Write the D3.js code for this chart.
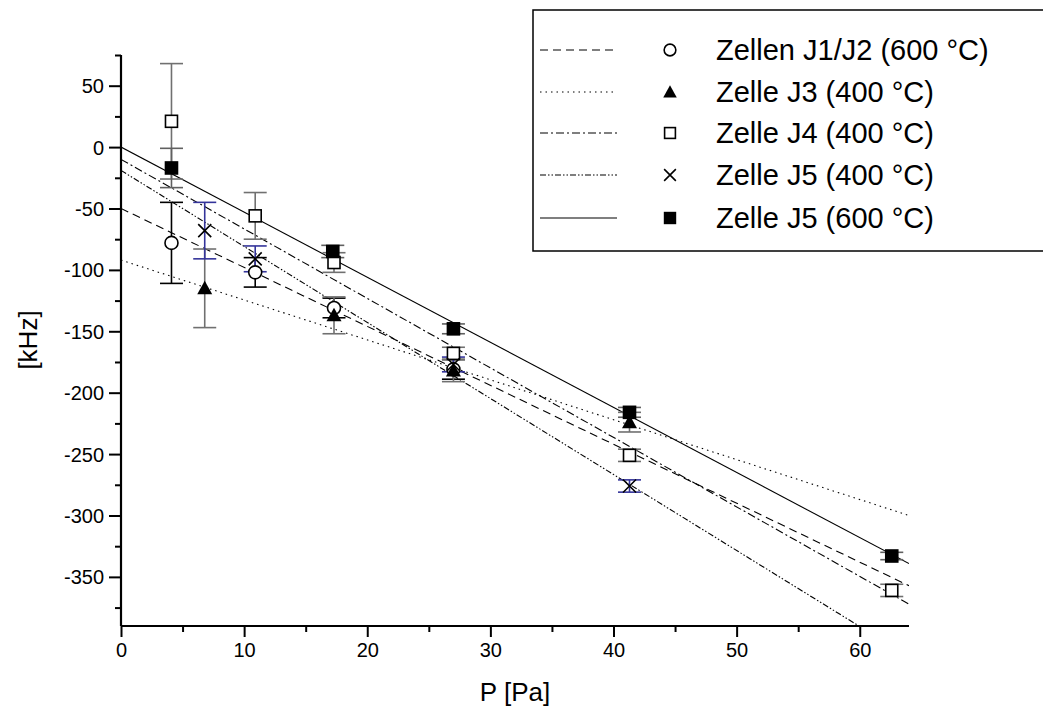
<html>
<script src="https://cdn.jsdelivr.net/npm/d3@7"></script>
<body style="margin:0; background:#fff">
<svg width="1043" height="708"></svg>
<script>
// series names and styles order
var names = ["Zellen J1/J2 (600 °C)", "Zelle J3 (400 °C)", "Zelle J4 (400 °C)", "Zelle J5 (400 °C)", "Zelle J5 (600 °C)"];

// measured points: pressure, shift, error
var j12P = [4.1, 10.9, 17.3, 27.0];
var j12F = [-78, -102, -131, -181];
var j12E = [33, 12, 8, 8];

var j3P = [6.8, 17.3, 27.0, 41.3];
var j3F = [-115, -137, -182, -224];
var j3E = [32, 15, 9, 8];

var j4P = [4.1, 10.9, 17.3, 27.0, 41.3, 62.6];
var j4F = [21, -56, -94, -168, -251, -361];
var j4E = [47, 19, 8, 5, 5, 5];

var j5aP = [6.8, 10.9, 27.0, 41.3];
var j5aF = [-68, -91, -177, -276];
var j5aE = [23, 10.5, 6, 5];

var j5bP = [4.1, 17.2, 27.0, 41.3, 62.6];
var j5bF = [-17, -85, -148, -216, -333];
var j5bE = [16, 5, 4, 4, 3];

// linear fits: intercept and slope
var fitA = [-50, -10, -92, -19, 0];
var fitB = [-4.8, -5.66, -3.25, -6.19, -5.3];
// fit order above: J1/J2, J4, J3, J5(400), J5(600) -> remapped below
var fitFor = [0, 2, 1, 3, 4];

var xTicks = [0, 10, 20, 30, 40, 50, 60];
var yTicks = [50, 0, -50, -100, -150, -200, -250, -300, -350];

var series = [
  {p: j12P, f: j12F, e: j12E, mark: "circle", bar: "#000"},
  {p: j3P, f: j3F, e: j3E, mark: "triangle", bar: "#707070"},
  {p: j4P, f: j4F, e: j4E, mark: "square", bar: "#707070"},
  {p: j5aP, f: j5aF, e: j5aE, mark: "cross", bar: "#34349a"},
  {p: j5bP, f: j5bF, e: j5bE, mark: "fsquare", bar: "#606060"}
];
var dashes = ["8,5", "1.5,4", "8,3,2,3", "6,2,1.5,2,1.5,2", null];

var svg = d3.select("svg");
var font = "'Liberation Sans', Arial, sans-serif";

var x = d3.scaleLinear().domain([0, 64]).range([121, 909]);
var y = d3.scaleLinear().domain([-390, 75]).range([626, 55]);

svg.append("clipPath").attr("id", "clip")
  .append("rect").attr("x", 121).attr("y", 55).attr("width", 788).attr("height", 571);

// fit lines
var plot = svg.append("g").attr("clip-path", "url(#clip)");
series.forEach(function(s, i) {
  var k = fitFor.indexOf(i);
  var a = fitA[k], b = fitB[k];
  plot.append("line")
    .attr("x1", x(0)).attr("y1", y(a))
    .attr("x2", x(64)).attr("y2", y(a + b * 64))
    .attr("stroke", "#000").attr("stroke-width", 1.1)
    .attr("stroke-dasharray", dashes[i]);
});

// error bars
series.forEach(function(s) {
  var g = svg.append("g").attr("stroke", s.bar).attr("stroke-width", 1.6);
  s.p.forEach(function(p, j) {
    var cx = x(p), top = y(s.f[j] + s.e[j]), bot = y(s.f[j] - s.e[j]);
    g.append("line").attr("x1", cx).attr("x2", cx).attr("y1", top).attr("y2", bot);
    g.append("line").attr("x1", cx - 11.5).attr("x2", cx + 11.5).attr("y1", top).attr("y2", top);
    g.append("line").attr("x1", cx - 11.5).attr("x2", cx + 11.5).attr("y1", bot).attr("y2", bot);
  });
});

function drawMark(g, type, cx, cy, sc) {
  sc = sc || 1;
  if (type == "circle") {
    g.append("circle").attr("cx", cx).attr("cy", cy).attr("r", 6.5 * sc)
      .attr("fill", "#fff").attr("stroke", "#000").attr("stroke-width", 1.6);
  } else if (type == "triangle") {
    var h = 7.5 * sc;
    g.append("path").attr("d", "M" + cx + "," + (cy - h) + "L" + (cx + h) + "," + (cy + h * 0.8) + "L" + (cx - h) + "," + (cy + h * 0.8) + "Z")
      .attr("fill", "#000");
  } else if (type == "square" || type == "fsquare") {
    var a = 6 * sc;
    g.append("rect").attr("x", cx - a).attr("y", cy - a).attr("width", 2 * a).attr("height", 2 * a)
      .attr("fill", type == "square" ? "#fff" : "#000").attr("stroke", "#000").attr("stroke-width", 1.6);
  } else if (type == "cross") {
    var c = 6.5 * sc;
    g.append("path").attr("d", "M" + (cx - c) + "," + (cy - c) + "L" + (cx + c) + "," + (cy + c) + "M" + (cx - c) + "," + (cy + c) + "L" + (cx + c) + "," + (cy - c))
      .attr("stroke", "#000").attr("stroke-width", 1.6).attr("fill", "none");
  }
}

series.forEach(function(s) {
  var g = svg.append("g");
  s.p.forEach(function(p, j) { drawMark(g, s.mark, x(p), y(s.f[j])); });
});

// axes
var xAxis = svg.append("g").attr("transform", "translate(0,626)")
  .call(d3.axisBottom(x).tickValues(d3.range(0, 65, 5)).tickSize(6).tickFormat(""));
xAxis.selectAll(".tick line").filter(function(d) { return d % 10 == 0; }).attr("y2", 11);
xAxis.selectAll(".tick").filter(function(d) { return xTicks.indexOf(d) >= 0; })
  .append("text").attr("y", 17).attr("dy", "0.71em").attr("fill", "#000")
  .text(function(d) { return d; });

var yAxis = svg.append("g").attr("transform", "translate(121,0)")
  .call(d3.axisLeft(y).tickValues(d3.range(-375, 76, 25)).tickSize(6).tickFormat(""));
yAxis.selectAll(".tick line").filter(function(d) { return d % 50 == 0; }).attr("x2", -12);
yAxis.selectAll(".tick").filter(function(d) { return yTicks.indexOf(d) >= 0; })
  .append("text").attr("x", -17).attr("dy", "0.35em").attr("fill", "#000")
  .text(function(d) { return d; });

svg.selectAll(".domain").attr("stroke-width", 2.2);
svg.selectAll(".tick line").attr("stroke-width", 2);
svg.selectAll(".tick text").style("font-family", font).style("font-size", "20px");
svg.select("g .domain");
xAxis.select(".domain").attr("d", "M121,0H909");
yAxis.select(".domain").attr("d", "M0,55V626");

svg.append("text").attr("x", 515).attr("y", 701).attr("text-anchor", "middle")
  .style("font-family", font).style("font-size", "26px").text("P [Pa]");
svg.append("text").attr("transform", "translate(37,340) rotate(-90)").attr("text-anchor", "middle")
  .style("font-family", font).style("font-size", "26px").text("[kHz]");

// legend
var leg = svg.append("g");
leg.append("rect").attr("x", 533).attr("y", 10).attr("width", 520).attr("height", 241)
  .attr("fill", "#fff").attr("stroke", "#000").attr("stroke-width", 1.5);
var rowY = [50, 92, 133, 175, 218];
names.forEach(function(n, i) {
  leg.append("line").attr("x1", 540).attr("x2", 617).attr("y1", rowY[i]).attr("y2", rowY[i])
    .attr("stroke", "#000").attr("stroke-width", 1.1).attr("stroke-dasharray", dashes[i]);
  drawMark(leg, series[i].mark, 670, rowY[i], 0.9);
  leg.append("text").attr("x", 716).attr("y", rowY[i]).attr("dy", "0.36em")
    .style("font-family", font).style("font-size", "29px").text(n);
});
</script>
</body>
</html>
